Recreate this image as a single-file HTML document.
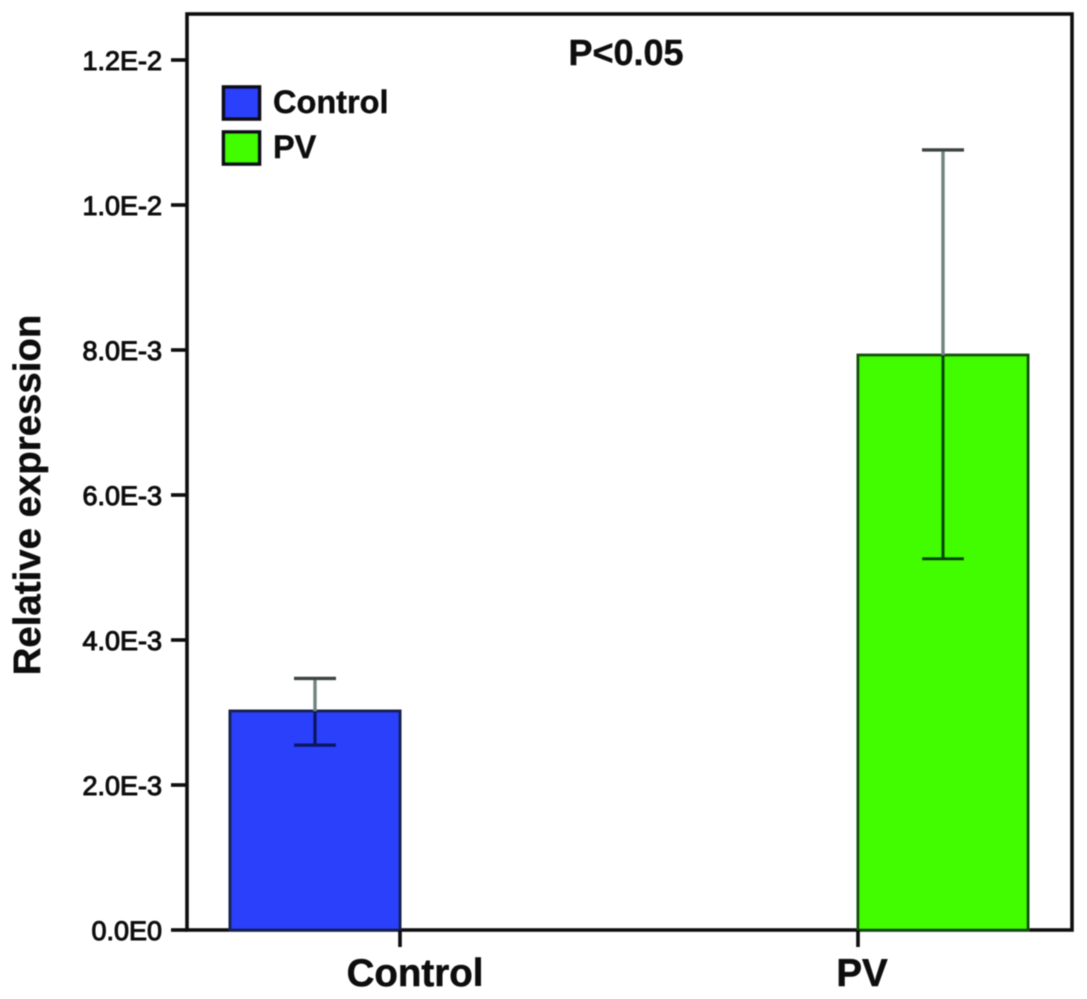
<!DOCTYPE html>
<html lang="en">
<head>
<meta charset="utf-8">
<title>Relative expression chart</title>
<style>
html,body{margin:0;padding:0;background:#fff;width:1087px;height:999px;overflow:hidden}
svg{display:block;font-family:"Liberation Sans",Arial,sans-serif}
</style>
</head>
<body>
<svg id="chart" xmlns="http://www.w3.org/2000/svg" width="1087" height="999" viewBox="0 0 1087 999">
  <defs>
    <filter id="soft" x="-5%" y="-5%" width="110%" height="110%"><feGaussianBlur stdDeviation="0.6"/></filter>
  </defs>
  <rect width="1087" height="999" fill="#ffffff"/>
  <g id="root" filter="url(#soft)"></g>
</svg>
<script>
const categories = ["Control", "PV"];
const means = [3.02e-3, 7.93e-3];
const errorUpper = [3.47e-3, 10.76e-3];
const errorLower = [2.55e-3, 5.12e-3];
const tickValues = [0, 2e-3, 4e-3, 6e-3, 8e-3, 10e-3, 12e-3];
const tickLabels = ["0.0E0", "2.0E-3", "4.0E-3", "6.0E-3", "8.0E-3", "1.0E-2", "1.2E-2"];

const NS = "http://www.w3.org/2000/svg";
const root = document.getElementById("root");
const plot = {left: 187, right: 1072, top: 14, bottom: 930};
const fills = ["#2a40fb", "#43fd05"];
const barWidth = 170;

function yScale(v) { return 930 - v / 12e-3 * 870; }
function xScale(i) { return 315 + i * 628; }

function make(tag, attrs, parent) {
  const el = document.createElementNS(NS, tag);
  for (const k in attrs) el.setAttribute(k, attrs[k]);
  (parent || root).appendChild(el);
  return el;
}

// Plot frame
const frame = make("rect", {x: plot.left, y: plot.top, width: plot.right - plot.left, height: plot.bottom - plot.top, fill: "none", stroke: "#0c0c0c", "stroke-width": 3.6});



// Y axis ticks and labels
tickValues.forEach(function (v, i) {
  const y = yScale(v);
  const t = make("line", {x1: 171, x2: plot.left, y1: y, y2: y, stroke: "#080808", "stroke-width": 3.6});
  
  
  const lab = make("text", {x: 162, y: y + 10, "text-anchor": "end", "font-size": 27, fill: "#0c0c0c", stroke: "#0c0c0c", "stroke-width": 1});
  lab.textContent = tickLabels[i];
  
  
});

// Bars and error bars
categories.forEach(function (c, i) {
  const cx = xScale(i);
  const top = yScale(means[i]);
  const bar = make("rect", {x: cx - barWidth / 2, y: top, width: barWidth, height: plot.bottom - top, fill: fills[i], stroke: i === 0 ? "#14204f" : "#155010", "stroke-width": 3});
  
  

  const yu = yScale(errorUpper[i]);
  const yl = yScale(errorLower[i]);
  const stemOut = make("line", {x1: cx, x2: cx, y1: yu, y2: top, stroke: "#6f8480", "stroke-width": 3.4});
  
  
  const stemIn = make("line", {x1: cx, x2: cx, y1: top, y2: yl, stroke: i === 0 ? "#08125c" : "#064a04", "stroke-width": 3.4});
  
  
  const capU = make("line", {x1: cx - 21, x2: cx + 21, y1: yu, y2: yu, stroke: "#3c4440", "stroke-width": 3.4});
  
  
  const capL = make("line", {x1: cx - 21, x2: cx + 21, y1: yl, y2: yl, stroke: i === 0 ? "#08125c" : "#064a04", "stroke-width": 3.4});
  
  
});

// X axis ticks (at the inner bar edges, as in the source figure)
categories.forEach(function (c, i) {
  const tx = xScale(i) + (i === 0 ? barWidth / 2 : -barWidth / 2);
  const t = make("line", {x1: tx, x2: tx, y1: plot.bottom, y2: 947, stroke: "#080808", "stroke-width": 3.6});
  
  
  const lab = make("text", {x: i === 0 ? 415 : 862, y: 986, "text-anchor": "middle", "font-size": 38.5, "font-weight": "bold", fill: "#0c0c0c", stroke: "#0c0c0c", "stroke-width": 0.5});
  lab.textContent = c;
  
  
});

// Legend
categories.forEach(function (c, i) {
  const y = 87 + i * 45;
  const sw = make("rect", {x: 223.5, y: y, width: 36, height: 32, fill: fills[i], stroke: "#0c1014", "stroke-width": 3.6});
  
  
  const lab = make("text", {x: 273, y: y + 26, "font-size": 32.5, "font-weight": "bold", fill: "#0c0c0c", stroke: "#0c0c0c", "stroke-width": 0.4});
  lab.textContent = c;
  
  
});

// Annotation
const pval = make("text", {x: 626, y: 65, "text-anchor": "middle", "font-size": 36, "font-weight": "bold", fill: "#0c0c0c", stroke: "#0c0c0c", "stroke-width": 0.4});
pval.textContent = "P<0.05";



// Y axis title
const yTitle = make("text", {transform: "translate(40,495) rotate(-90)", "text-anchor": "middle", "font-size": 38.4, "font-weight": "bold", fill: "#0c0c0c", stroke: "#0c0c0c", "stroke-width": 0.4});
yTitle.textContent = "Relative expression";


</script>
</body>
</html>
